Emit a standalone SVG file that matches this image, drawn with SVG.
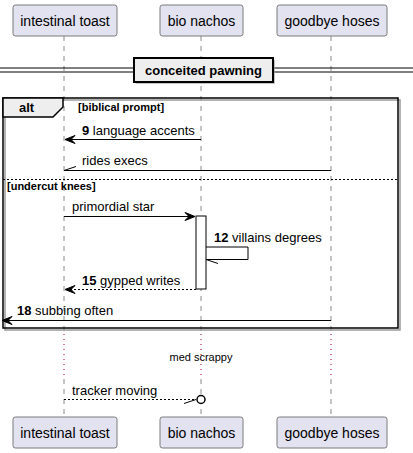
<svg xmlns="http://www.w3.org/2000/svg" width="413" height="453" viewBox="0 0 413 453">
<defs>
<style>
.pbox{fill:#E2E2F0;stroke:#7a7a7a;stroke-width:1}
.ptxt{font-family:"Liberation Sans",Arial,sans-serif;font-size:14px;fill:#000;text-anchor:middle}
.life{stroke:#8a8a8a;stroke-width:1;stroke-dasharray:5,5;fill:none}
.delay{stroke:#A80036;stroke-width:1;stroke-dasharray:1,4;fill:none}
.msg{stroke:#000;stroke-width:1;fill:none}
.dash{stroke:#000;stroke-width:1;stroke-dasharray:2,2;fill:none}
.head{fill:#000;stroke:#000;stroke-width:1}
.mtxt{font-family:"Liberation Sans",Arial,sans-serif;font-size:13px;fill:#000}
.b{font-weight:bold}
.gtxt{font-family:"Liberation Sans",Arial,sans-serif;font-size:11px;font-weight:bold;fill:#000}
</style>
</defs>
<g id="lifelines">
<line class="life" x1="64" y1="36" x2="64" y2="333"/>
<line class="delay" x1="64" y1="334" x2="64" y2="378"/>
<line class="life" x1="64" y1="379" x2="64" y2="417"/>
<line class="life" x1="201" y1="36" x2="201" y2="333"/>
<line class="delay" x1="201" y1="334" x2="201" y2="378"/>
<line class="life" x1="201" y1="379" x2="201" y2="417"/>
<line class="life" x1="331" y1="36" x2="331" y2="333"/>
<line class="delay" x1="331" y1="334" x2="331" y2="378"/>
<line class="life" x1="331" y1="379" x2="331" y2="417"/>
</g>
<g id="p-intestinal-toast-top"><rect class="pbox" x="13" y="5" width="104" height="31" rx="2.5"/><text class="ptxt" x="65" y="25.5">intestinal toast</text></g>
<g id="p-bio-nachos-top"><rect class="pbox" x="160" y="5" width="83" height="31" rx="2.5"/><text class="ptxt" x="201.5" y="25.5">bio nachos</text></g>
<g id="p-goodbye-hoses-top"><rect class="pbox" x="277" y="5" width="110" height="31" rx="2.5"/><text class="ptxt" x="332" y="25.5">goodbye hoses</text></g>
<g id="p-intestinal-toast-bottom"><rect class="pbox" x="13" y="417" width="104" height="31" rx="2.5"/><text class="ptxt" x="65" y="437.5">intestinal toast</text></g>
<g id="p-bio-nachos-bottom"><rect class="pbox" x="160" y="417" width="83" height="31" rx="2.5"/><text class="ptxt" x="201.5" y="437.5">bio nachos</text></g>
<g id="p-goodbye-hoses-bottom"><rect class="pbox" x="277" y="417" width="110" height="31" rx="2.5"/><text class="ptxt" x="332" y="437.5">goodbye hoses</text></g>
<g id="divider">
<line x1="0" y1="68" x2="413" y2="68" stroke="#000" stroke-width="1"/>
<line x1="0" y1="72" x2="413" y2="72" stroke="#000" stroke-width="1"/>
<rect x="136" y="60" width="139" height="24" fill="#9a9a9a" opacity="0.6"/>
<rect x="134" y="58" width="139" height="24" fill="#EEEEEE" stroke="#000" stroke-width="2"/>
<text class="mtxt b" x="203.5" y="75" text-anchor="middle">conceited pawning</text>
</g>
<g id="alt-frame">
<rect x="5" y="100" width="395" height="230" fill="none" stroke="#9a9a9a" stroke-width="1.5"/>
<rect x="3" y="98" width="395" height="230" fill="none" stroke="#000" stroke-width="1.5"/>
<polygon points="3,98 63,98 63,107 53,117 3,117" fill="#EEEEEE" stroke="#000" stroke-width="1.5"/>
<text class="mtxt b" x="19" y="112">alt</text>
<text class="gtxt" x="78" y="111">[biblical prompt]</text>
<line x1="3" y1="179.5" x2="398" y2="179.5" stroke="#000" stroke-width="1" stroke-dasharray="2,2"/>
<text class="gtxt" x="7" y="190">[undercut knees]</text>
</g>
<g id="activation"><rect x="196" y="216" width="10" height="73" fill="#fff" stroke="#000" stroke-width="1"/></g>
<g id="connectors">
<line class="msg" x1="201" y1="139.5" x2="66" y2="139.5"/>
<polygon class="head" points="75,135.5 65,139.5 75,143.5 71,139.5"/>
<text class="mtxt" x="82" y="135"><tspan class="b">9</tspan> language accents</text>
<line class="msg" x1="331" y1="170.5" x2="64" y2="170.5"/>
<line class="msg" x1="64" y1="170.5" x2="76" y2="166.5"/>
<text class="mtxt" x="82" y="165">rides execs</text>
<line class="msg" x1="64" y1="216.5" x2="194" y2="216.5"/>
<polygon class="head" points="185,212.5 195,216.5 185,220.5 189,216.5"/>
<text class="mtxt" x="72" y="211">primordial star</text>
<polyline class="msg" points="206,247 248,247 248,259.5 206,259.5"/>
<line class="msg" x1="206" y1="259.5" x2="218" y2="263.5"/>
<text class="mtxt" x="214" y="242"><tspan class="b">12</tspan> villains degrees</text>
<line class="dash" x1="196" y1="289.5" x2="66" y2="289.5"/>
<polygon class="head" points="75,285.5 65,289.5 75,293.5 71,289.5"/>
<text class="mtxt" x="82" y="284.5"><tspan class="b">15</tspan> gypped writes</text>
<line class="msg" x1="331" y1="320.5" x2="3" y2="320.5"/>
<polygon class="head" points="12,316.5 2,320.5 12,324.5 8,320.5"/>
<text class="mtxt" x="17" y="315"><tspan class="b">18</tspan> subbing often</text>
<text x="201" y="361" font-family="'Liberation Sans',Arial,sans-serif" font-size="11" text-anchor="middle">med scrappy</text>
<line class="dash" x1="64" y1="399.5" x2="196" y2="399.5"/>
<line class="msg" x1="184" y1="403.5" x2="196" y2="399.5"/>
<circle cx="201" cy="399.5" r="4" fill="#fff" stroke="#000" stroke-width="1.5"/>
<text class="mtxt" x="72" y="395">tracker moving</text>
</g>
</svg>
